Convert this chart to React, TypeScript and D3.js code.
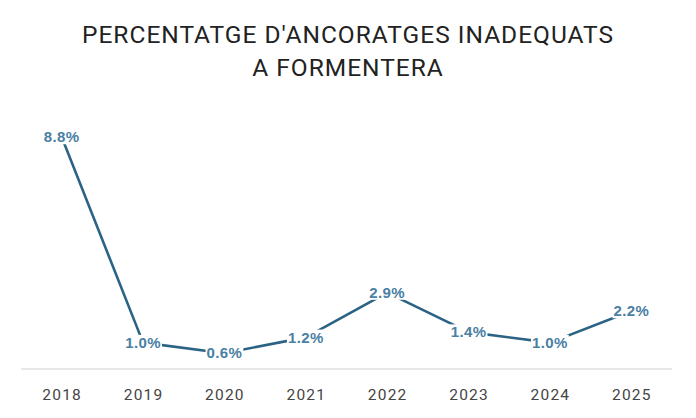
import { useEffect, useRef } from 'react';
import * as d3 from 'd3';

const years = ['2018', '2019', '2020', '2021', '2022', '2023', '2024', '2025'];
const values = [8.8, 1.0, 0.6, 1.2, 2.9, 1.4, 1.0, 2.2];
const titleLines = ["PERCENTATGE D'ANCORATGES INADEQUATS", 'A FORMENTERA'];

export default function App() {
  const svgRef = useRef<SVGSVGElement | null>(null);

  useEffect(() => {
    if (!svgRef.current) return;
    const svg = d3.select(svgRef.current);
    svg.selectAll('*').remove();

    const width = 696;
    const height = 418;
    const margin = { left: 21, right: 24, top: 137, bottom: 49 };

    const x = d3
      .scalePoint<string>()
      .domain(years)
      .range([margin.left, width - margin.right])
      .padding(0.5);

    const y = d3
      .scaleLinear()
      .domain([0, 8.8])
      .range([height - margin.bottom, margin.top]);

    // title
    svg
      .append('g')
      .selectAll('text')
      .data(titleLines)
      .join('text')
      .attr('x', width / 2)
      .attr('y', (_, i) => 43 + i * 33)
      .attr('text-anchor', 'middle')
      .attr('font-family', 'Roboto, sans-serif')
      .attr('font-size', 24.5)
      .attr('fill', '#222')
      .attr('letter-spacing', 1.0)
      .text((d) => d);

    // baseline
    svg
      .append('line')
      .attr('x1', margin.left)
      .attr('x2', width - margin.right)
      .attr('y1', y(0))
      .attr('y2', y(0))
      .attr('stroke', '#e0e0e0')
      .attr('stroke-width', 1.5);

    // x axis labels
    const xAxis = svg
      .append('g')
      .attr('transform', `translate(0, ${y(0)})`)
      .call(d3.axisBottom(x).tickSize(0).tickPadding(20));
    xAxis.select('.domain').remove();
    xAxis
      .selectAll('.tick text')
      .attr('fill', '#444')
      .attr('font-family', 'Roboto, sans-serif')
      .attr('font-size', 15.5)
      .attr('letter-spacing', 1.2);

    const line = d3
      .line<number>()
      .x((_, i) => x(years[i]) ?? 0)
      .y((d) => y(d));

    svg
      .append('path')
      .datum(values)
      .attr('fill', 'none')
      .attr('stroke', '#2b6385')
      .attr('stroke-width', 2.6)
      .attr('stroke-linejoin', 'round')
      .attr('d', line);

    // labels with white box behind them
    const labels = svg
      .append('g')
      .selectAll('g')
      .data(values)
      .join('g')
      .attr('transform', (d, i) => `translate(${x(years[i])}, ${y(d)})`);

    const texts = labels
      .append('text')
      .attr('text-anchor', 'middle')
      .attr('dy', '0.35em')
      .attr('font-family', '"Liberation Sans", Arial, sans-serif')
      .attr('font-weight', 'bold')
      .attr('font-size', 15)
      .attr('letter-spacing', 0.4)
      .attr('fill', '#4a80a3')
      .text((d) => `${d.toFixed(1)}%`);

    texts.each(function () {
      const bb = (this as SVGTextElement).getBBox();
      d3.select((this as SVGTextElement).parentNode as SVGGElement)
        .insert('rect', 'text')
        .attr('x', bb.x - 1)
        .attr('y', bb.y + 1)
        .attr('width', bb.width + 2)
        .attr('height', bb.height - 2)
        .attr('fill', '#fff');
    });
  }, []);

  return (
    <svg
      ref={svgRef}
      width={696}
      height={418}
      style={{ display: 'block', margin: '-8px', background: '#fff' }}
    />
  );
}
